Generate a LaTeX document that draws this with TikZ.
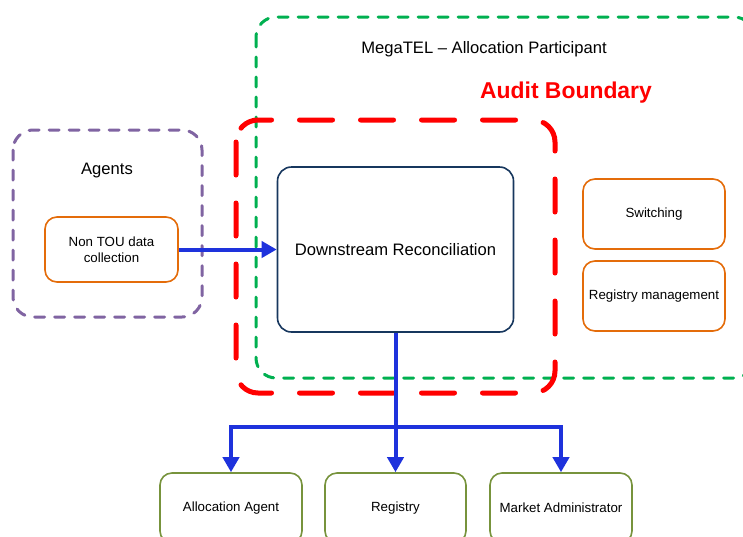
\documentclass[tikz,border=0pt]{standalone}
\usepackage{fontspec}
\setmainfont{Liberation Sans}
\usetikzlibrary{arrows.meta}
\definecolor{grn}{HTML}{00B050}
\definecolor{rd}{HTML}{FF0000}
\definecolor{purp}{HTML}{8064A2}
\definecolor{orng}{HTML}{E46C0A}
\definecolor{navy}{HTML}{17375E}
\definecolor{olive}{HTML}{77933C}
\definecolor{blu}{RGB}{30,50,220}
\tikzset{
  bigfont/.style={font=\fontsize{16.6}{19}\selectfont},
  smallfont/.style={font=\fontsize{13.3}{16}\selectfont},
  orangebox/.style={draw=orng,line width=1.6pt,rounded corners=12pt,fill=white,align=center,smallfont,inner sep=0pt},
  olivebox/.style={draw=olive,line width=1.6pt,rounded corners=12pt,fill=white,align=center,smallfont,inner sep=0pt},
  navybox/.style={draw=navy,line width=1.6pt,rounded corners=14pt,fill=white,align=center,bigfont,inner sep=0pt},
  conn/.style={draw=blu,line width=4pt,-{Triangle[length=15pt,width=16pt]}},
  connline/.style={draw=blu,line width=4pt},
  greenbound/.style={draw=grn,line width=3pt,line cap=round,dash pattern=on 10pt off 10pt,rounded corners=20pt},
  redbound/.style={draw=rd,line width=5pt,line cap=round,dash pattern=on 33pt off 28pt,rounded corners=22pt},
  purplebound/.style={draw=purp,line width=3pt,line cap=round,dash pattern=on 10pt off 10pt,rounded corners=20pt}
}
\begin{document}
\begin{tikzpicture}[x=1pt,y=-1pt]
\useasboundingbox (0,0) rectangle (743,536);
\fill[white] (0,0) rectangle (743,536);
\begin{scope}
\clip (0,0) rectangle (743,536);
% boundaries
\draw[greenbound] (256,17) rectangle (754,378);
\draw[redbound] (236,120) rectangle (555,393);
\draw[purplebound] (13,130) rectangle (202,317);
\node[bigfont] (megatel) at (484,49) {MegaTEL – Allocation Participant};
\node[font=\fontsize{22.9}{26}\selectfont\bfseries,text=rd] (audit) at (566,93) {Audit Boundary};
\node[bigfont] (agents) at (107,171) {Agents};
% boxes
\node[orangebox,minimum width=133pt,minimum height=65pt] (nontou) at (111.5,249.5) {Non TOU data\\collection};
\node[navybox,minimum width=236pt,minimum height=165pt] (ds) at (395.5,249.5) {Downstream Reconciliation};
\node[orangebox,minimum width=142pt,minimum height=70pt] (sw) at (654,214) {Switching};
\node[orangebox,minimum width=142pt,minimum height=70pt] (rm) at (654,296) {Registry management};
\node[olivebox,minimum width=142pt,minimum height=70pt] (alloc) at (231,508) {Allocation Agent};
\node[olivebox,minimum width=141pt,minimum height=70pt] (reg) at (395.5,508) {Registry};
\node[olivebox,minimum width=142pt,minimum height=70pt] (ma) at (561,508) {Market Administrator};
% connectors
\draw[conn] (nontou.east) -- (ds.west);
\coordinate (split) at (395.5,427);
\draw[connline] (ds.south) -- (split);
\draw[conn] (split) -- (reg.north);
\draw[conn] (split) -| (alloc.north);
\draw[conn] (split) -| (ma.north);
\end{scope}
\end{tikzpicture}
\end{document}
